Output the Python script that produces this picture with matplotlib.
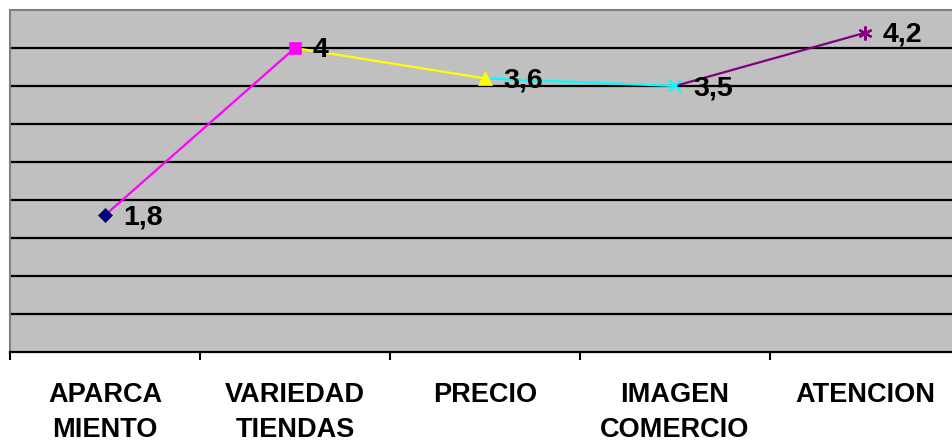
import matplotlib
matplotlib.use("Agg")
import matplotlib.pyplot as plt

plt.rcParams['font.family'] = ['Liberation Sans', 'DejaVu Sans']

categories = ["APARCA\nMIENTO", "VARIEDAD\nTIENDAS", "PRECIO", "IMAGEN\nCOMERCIO", "ATENCION"]
values = [1.8, 4.0, 3.6, 3.5, 4.2]
value_labels = ["1,8", "4", "3,6", "3,5", "4,2"]
point_colors = ["#000080", "#FF00FF", "#FFFF00", "#00FFFF", "#800080"]
markers = ["D", "s", "^", "x", (6, 2, 0)]
marker_sizes = [7.5, 8, 10, 9, 10]

fig = plt.figure(figsize=(9.53, 4.44), dpi=100)
ax = fig.add_axes([10 / 953, 92 / 444, 950 / 953, 342 / 444])
ax.set_facecolor("#C0C0C0")

x = list(range(len(values)))
ax.set_xlim(-0.5, len(values) - 0.5)
ax.set_ylim(0, 4.5)

# horizontal grid
for g in [0.5, 1.0, 1.5, 2.0, 2.5, 3.0, 3.5, 4.0]:
    ax.axhline(g, color="black", lw=1.6, zorder=1)

# segments take the colour of the point they lead into
for i in range(1, len(values)):
    ax.plot([x[i - 1], x[i]], [values[i - 1], values[i]], color=point_colors[i],
            lw=1.6, zorder=2, solid_capstyle="butt")

for i, v in enumerate(values):
    filled = markers[i] in ("D", "s", "^")
    ax.plot(x[i], v, marker=markers[i], ms=marker_sizes[i], color=point_colors[i],
            mec=point_colors[i], mew=1.6 if not filled else 0.5, zorder=3, ls="none")
    ax.annotate(value_labels[i], (x[i], v), xytext=(13, -1.5), textcoords="offset points",
                ha="left", va="center", fontsize=20.5, fontweight="bold", color="black",
                zorder=4)

for side in ("left", "top", "right"):
    ax.spines[side].set_color("#808080")
    ax.spines[side].set_linewidth(1.5)
ax.spines["bottom"].set_color("black")
ax.spines["bottom"].set_linewidth(1.6)

ax.set_yticks([])
ax.set_xticks(x)
ax.set_xticklabels(categories, fontsize=19.5, fontweight="bold", linespacing=1.47)
ax.tick_params(axis="x", which="major", length=0, pad=21.5)
ax.set_xticks([i - 0.5 for i in range(len(values) + 1)], minor=True)
ax.tick_params(axis="x", which="minor", length=6, width=1.5, color="black", direction="out")

fig.savefig("out.png", dpi=100, facecolor="white")
